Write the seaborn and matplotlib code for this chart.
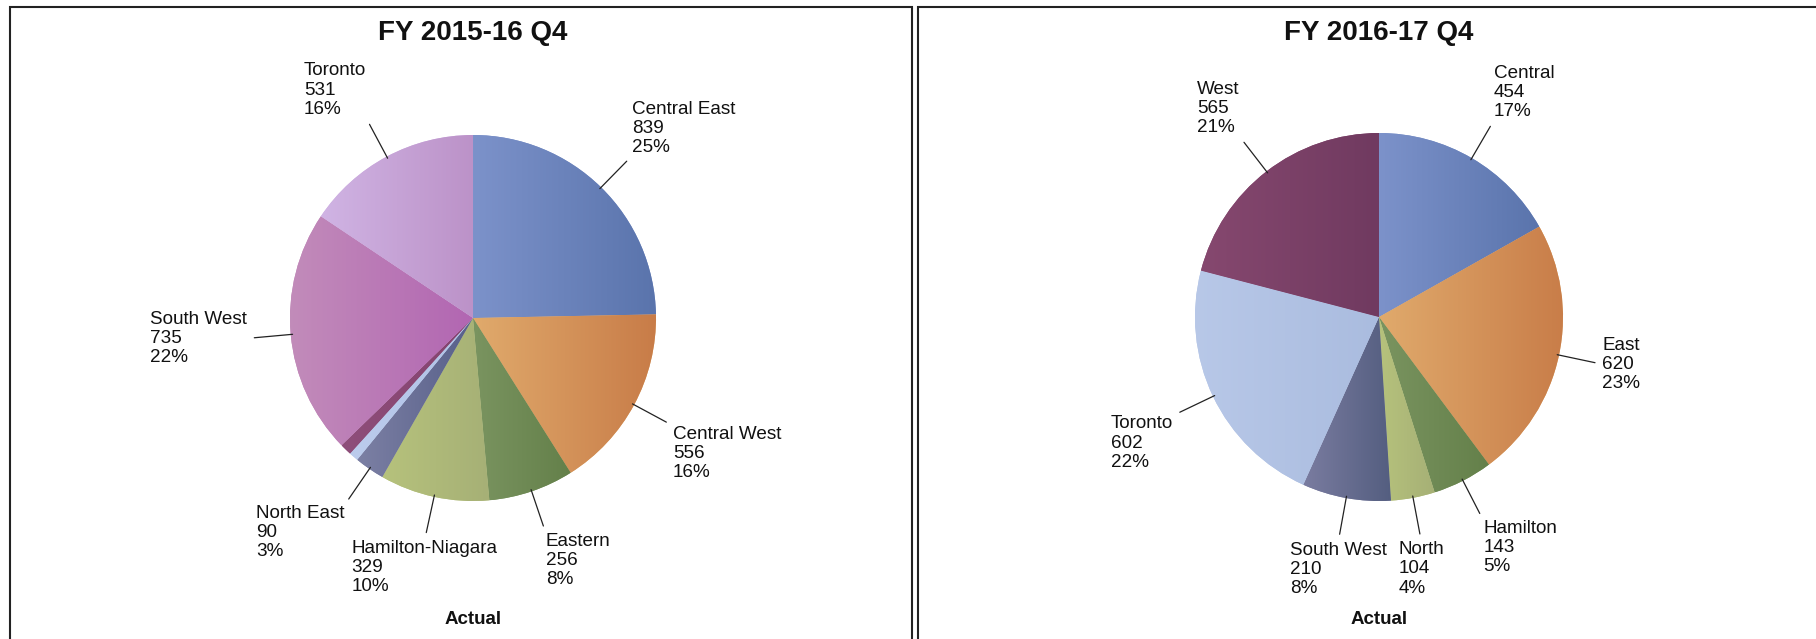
import numpy as np
import matplotlib
matplotlib.use("Agg")
import matplotlib.pyplot as plt
import matplotlib.colors as mcolors
from matplotlib.patches import Rectangle
import seaborn as sns

# --- data ---
left_title = "FY 2015-16 Q4"
left_regions = ["Central East", "Central West", "Eastern", "Hamilton-Niagara",
                "North East", "", "", "South West", "Toronto"]
left_values = [839, 556, 256, 329, 90, 28, 35, 735, 531]
# gradient ends (light on the left, dark on the right)
left_light = ["#7c92ca", "#e0aa6c", "#7a9460", "#b6c27c", "#7c80a4",
              "#bccced", "#8e4e7a", "#c28cba", "#d0b4e4"]
left_dark = ["#5a74ac", "#c87c48", "#64804a", "#a6b076", "#58608a",
             "#b0c2e6", "#84426e", "#b266b2", "#bc92c8"]

right_title = "FY 2016-17 Q4"
right_regions = ["Central", "East", "Hamilton", "North", "South West", "Toronto", "West"]
right_values = [454, 620, 143, 104, 210, 602, 565]
right_light = ["#7c92ca", "#e0aa6c", "#7a9460", "#b6c27c", "#7a7ca0",
               "#b8c8e8", "#86486f"]
right_dark = ["#5a74ac", "#c87c48", "#64804a", "#a6b076", "#545e80",
              "#aabcdf", "#703a60"]

footer = "Actual"

W, H = 1816, 639

sns.set_theme(style="white")
plt.rcParams["font.family"] = ["Liberation Sans", "DejaVu Sans"]


def shade(ax, wedge, c_light, c_dark):
    # left-to-right gradient clipped to the wedge
    verts = wedge.get_path().vertices
    x0, x1 = verts[:, 0].min(), verts[:, 0].max()
    y0, y1 = verts[:, 1].min(), verts[:, 1].max()
    a = np.array(mcolors.to_rgb(c_light))
    b = np.array(mcolors.to_rgb(c_dark))
    t = np.linspace(0, 1, 96)[:, None]
    grad = a * (1 - t) + b * t
    img = ax.imshow(grad[None, :, :], extent=[x0, x1, y0, y1], aspect="auto",
                    interpolation="bilinear", zorder=2)
    img.set_clip_path(wedge)


def draw_pie(ax, cx, cy, r, title, regions, values, lights, darks):
    palette = sns.color_palette(lights)
    wedges, _ = ax.pie(values, colors=palette, startangle=90, counterclock=False,
                       center=(cx, cy), radius=r, frame=True,
                       wedgeprops=dict(linewidth=0))
    for w, cl, cd in zip(wedges, lights, darks):
        shade(ax, w, cl, cd)

    total = sum(values)
    cum = np.cumsum([0] + list(values))
    for i, name in enumerate(regions):
        if not name:
            continue
        mid = (cum[i] + cum[i + 1]) / 2 / total * 2 * np.pi
        dx, dy = np.sin(mid), np.cos(mid)
        ax.plot([cx + dx * r * 0.99, cx + dx * r * 1.2],
                [cy + dy * r * 0.99, cy + dy * r * 1.2],
                color="#222222", lw=0.9, zorder=3)
        ha = "left" if dx > 0.3 else ("right" if dx < -0.3 else "center")
        va = "bottom" if dy > 0.3 else ("top" if dy < -0.3 else "center")
        pct = round(values[i] / total * 100)
        ax.text(cx + dx * r * 1.24, cy + dy * r * 1.24,
                f"{name}\n{values[i]}\n{pct}%",
                ha=ha, va=va, multialignment="left", fontsize=13.6,
                linespacing=1.17, color="#111111", zorder=4)

    ax.text(cx, H - 33, title, ha="center", va="center",
            fontsize=20, fontweight="bold", color="#111111")
    ax.text(cx, H - 620, footer, ha="center", va="center",
            fontsize=13.5, fontweight="bold", color="#111111")


fig = plt.figure(figsize=(W / 100, H / 100), dpi=100)
ax = fig.add_axes([0, 0, 1, 1])

draw_pie(ax, 473, H - 318, 183, left_title, left_regions, left_values,
         left_light, left_dark)
draw_pie(ax, 1379, H - 317, 184, right_title, right_regions, right_values,
         right_light, right_dark)

# panel borders
ax.add_patch(Rectangle((10, -10), 902, H - 7 + 10, fill=False,
                       edgecolor="#222222", lw=1.5, zorder=5))
ax.add_patch(Rectangle((918, -10), 1000, H - 7 + 10, fill=False,
                       edgecolor="#222222", lw=1.5, zorder=5))

ax.set_xlim(0, W)
ax.set_ylim(0, H)
ax.set_aspect("equal")
ax.axis("off")

fig.savefig("out.png", dpi=100)
